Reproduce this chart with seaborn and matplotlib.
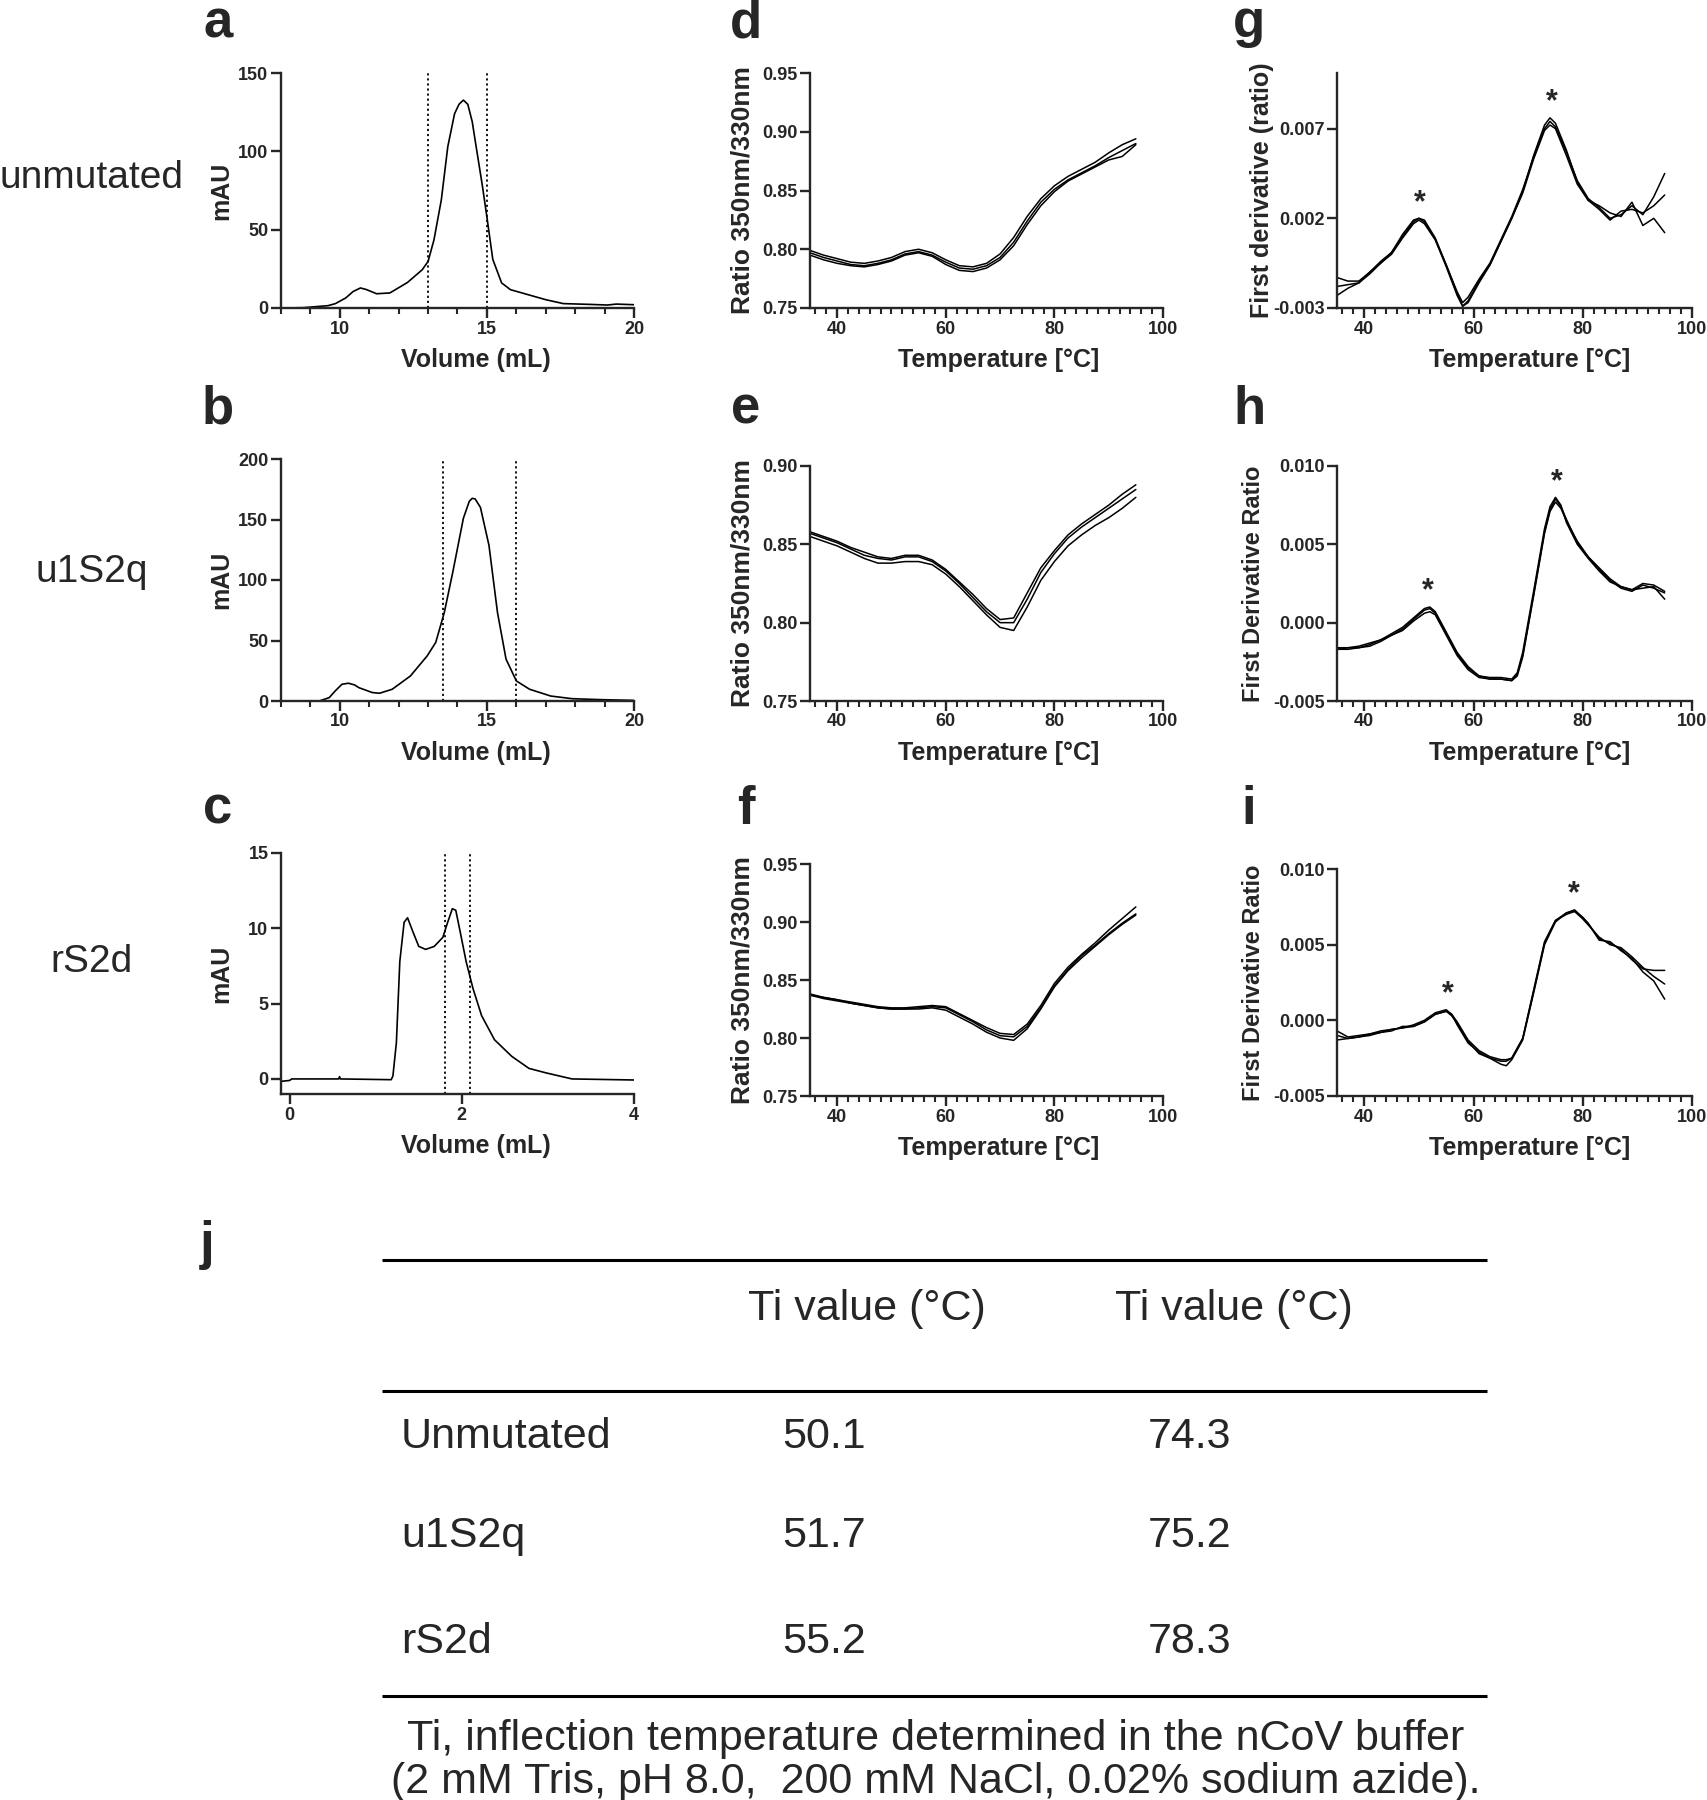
import numpy as np
import matplotlib
matplotlib.use('Agg')
import matplotlib.pyplot as plt
import seaborn as sns
from matplotlib.ticker import MultipleLocator, FormatStrFormatter

sns.set_style('ticks')
plt.rcParams['font.family'] = ['Liberation Sans', 'DejaVu Sans']
plt.rcParams['font.weight'] = 'bold'
plt.rcParams['axes.unicode_minus'] = False

# ---- SEC chromatograms (a, b, c) ----
a_vol = [8, 8.75, 9.6, 9.85, 10.2, 10.45, 10.7, 10.9, 11.25, 11.7, 12.3, 12.8, 13.0, 13.2, 13.45,
         13.67, 13.9, 14.05, 14.2, 14.35, 14.5, 14.6, 14.85, 15.0, 15.2, 15.5, 15.8, 16.4, 17.0,
         17.6, 18.5, 19.1, 19.4, 20]
a_mau = [0, 0.2, 1.5, 2.8, 6.4, 10.5, 12.8, 11.8, 9.1, 9.6, 16.3, 24.4, 29.7, 43.5, 69,
         103, 124, 130, 132.7, 130, 119, 107, 77.5, 58, 31, 16, 11.7, 8.5, 5.3,
         2.8, 2.3, 1.9, 2.5, 2.1]
a_cut = [13, 15]

b_vol = [8, 9.3, 9.64, 9.85, 10.07, 10.29, 10.5, 10.65, 11.1, 11.35, 11.78, 12.4, 12.97, 13.26,
         13.55, 13.84, 14.2, 14.4, 14.5, 14.6, 14.78, 15.07, 15.36, 15.65, 16.0, 16.45, 17.17,
         17.9, 18.9, 20]
b_mau = [0, 0, 2.8, 8.5, 13.8, 14.7, 13.3, 11, 7, 6.4, 9.7, 20.7, 37.3, 48.4,
         73, 106.5, 151, 165, 167.5, 167, 160, 128.6, 73, 34.6, 16.6, 9.7, 4.1,
         1.9, 1.1, 0.5]
b_cut = [13.5, 16]

c_vol = [-0.1, 0.0, 0.025, 0.57, 0.58, 0.59, 1.18, 1.2, 1.24, 1.28, 1.33, 1.37, 1.43, 1.5, 1.58,
         1.68, 1.78, 1.83, 1.89, 1.93, 1.98, 2.05, 2.13, 2.23, 2.38, 2.58, 2.78, 2.98, 3.13,
         3.28, 4.0]
c_mau = [-0.16, -0.1, 0, 0, 0.15, 0, -0.05, 0.2, 2.4, 7.8, 10.4, 10.7, 9.8, 8.8, 8.6,
         8.8, 9.4, 10.3, 11.3, 11.2, 9.8, 7.8, 6.0, 4.2, 2.6, 1.5, 0.7, 0.4, 0.2,
         0, -0.07]
c_cut = [1.8, 2.1]

# ---- ratio 350/330 curves (d, e, f), 3 replicates ----
T_ratio = [35, 37.5, 40, 42.5, 45, 47.5, 50, 52.5, 55, 57.5, 60, 62.5, 65, 67.5, 70, 72.5,
           75, 77.5, 80, 82.5, 85, 87.5, 90, 92.5, 95]
d1 = [0.799, 0.795, 0.792, 0.789, 0.788, 0.790, 0.793, 0.798, 0.800, 0.797, 0.791, 0.786, 0.785,
      0.788, 0.796, 0.810, 0.828, 0.843, 0.854, 0.862, 0.868, 0.874, 0.882, 0.889, 0.894]
d2 = [0.797, 0.793, 0.790, 0.787, 0.786, 0.788, 0.791, 0.796, 0.798, 0.795, 0.789, 0.784, 0.783,
      0.786, 0.793, 0.806, 0.824, 0.840, 0.851, 0.859, 0.865, 0.871, 0.878, 0.884, 0.890]
d3 = [0.795, 0.791, 0.788, 0.786, 0.785, 0.787, 0.790, 0.795, 0.797, 0.794, 0.787, 0.782, 0.781,
      0.784, 0.791, 0.803, 0.821, 0.837, 0.849, 0.858, 0.864, 0.870, 0.876, 0.879, 0.889]
e1 = [0.858, 0.855, 0.852, 0.848, 0.845, 0.842, 0.841, 0.843, 0.843, 0.840, 0.834, 0.826, 0.818,
      0.809, 0.802, 0.803, 0.819, 0.835, 0.846, 0.856, 0.863, 0.869, 0.875, 0.882, 0.888]
e2 = [0.857, 0.854, 0.851, 0.847, 0.843, 0.841, 0.840, 0.842, 0.842, 0.839, 0.833, 0.825, 0.816,
      0.807, 0.800, 0.800, 0.815, 0.832, 0.844, 0.854, 0.861, 0.867, 0.873, 0.879, 0.885]
e3 = [0.855, 0.852, 0.849, 0.845, 0.841, 0.838, 0.838, 0.839, 0.839, 0.837, 0.831, 0.823, 0.814,
      0.805, 0.797, 0.795, 0.810, 0.827, 0.839, 0.849, 0.856, 0.862, 0.867, 0.873, 0.880]
f1 = [0.838, 0.835, 0.833, 0.831, 0.829, 0.827, 0.826, 0.826, 0.827, 0.828, 0.827, 0.821, 0.815,
      0.809, 0.804, 0.803, 0.812, 0.828, 0.847, 0.861, 0.872, 0.882, 0.893, 0.903, 0.913]
f2 = [0.837, 0.835, 0.833, 0.830, 0.828, 0.826, 0.825, 0.825, 0.826, 0.827, 0.826, 0.820, 0.814,
      0.807, 0.802, 0.801, 0.810, 0.826, 0.845, 0.859, 0.871, 0.880, 0.890, 0.899, 0.907]
f3 = [0.837, 0.834, 0.832, 0.830, 0.828, 0.826, 0.825, 0.825, 0.825, 0.826, 0.824, 0.818, 0.812,
      0.805, 0.800, 0.798, 0.808, 0.825, 0.844, 0.858, 0.869, 0.879, 0.889, 0.898, 0.906]

# ---- first derivative curves (g, h, i), 3 replicates ----
T_g = [35, 37, 39, 41, 43, 45, 47, 49, 50, 51, 53, 55, 57, 58, 59, 61, 63, 65, 67, 69, 71, 73,
       74, 75, 77, 79, 81, 83, 85, 87, 89, 91, 93, 95]
g1 = [-0.0018, -0.0017, -0.0016, -0.0010, -0.0005, 0.0001, 0.0010, 0.0018, 0.0020, 0.0018,
      0.0008, -0.0006, -0.0021, -0.0027, -0.0024, -0.0014, -0.0005, 0.0008, 0.0021, 0.0036,
      0.0054, 0.0070, 0.0074, 0.0071, 0.0057, 0.0041, 0.0031, 0.0026, 0.0020, 0.0022,
      0.0027, 0.0022, 0.0032, 0.0045]
g2 = [-0.0013, -0.0015, -0.0015, -0.0010, -0.0004, 0.0001, 0.0011, 0.0019, 0.0020, 0.0019,
      0.0009, -0.0006, -0.0022, -0.0029, -0.0026, -0.0015, -0.0006, 0.0007, 0.0020, 0.0035,
      0.0055, 0.0072, 0.0076, 0.0073, 0.0058, 0.0040, 0.0030, 0.0027, 0.0023, 0.0021,
      0.0029, 0.0016, 0.0020, 0.0012]
g3 = [-0.0023, -0.0019, -0.0016, -0.0011, -0.0005, 0.0000, 0.0009, 0.0017, 0.0019, 0.0017,
      0.0008, -0.0007, -0.0023, -0.0029, -0.0027, -0.0016, -0.0006, 0.0007, 0.0020, 0.0034,
      0.0053, 0.0069, 0.0072, 0.0070, 0.0055, 0.0039, 0.0030, 0.0025, 0.0019, 0.0024,
      0.0025, 0.0023, 0.0027, 0.0033]

T_h = [35, 37, 39, 41, 43, 45, 47, 49, 51, 52, 53, 55, 57, 59, 61, 63, 65, 67, 68, 69, 71, 73,
       74, 75, 76, 77, 79, 81, 83, 85, 87, 89, 91, 93, 95]
h1 = [-0.0017, -0.0017, -0.0016, -0.0015, -0.0012, -0.0008, -0.0004, 0.0002, 0.0008, 0.0009,
      0.0006, -0.0007, -0.0020, -0.0029, -0.0034, -0.0036, -0.0036, -0.0037, -0.0033, -0.0021,
      0.0018, 0.0058, 0.0072, 0.0079, 0.0074, 0.0066, 0.0051, 0.0042, 0.0034, 0.0027,
      0.0022, 0.0020, 0.0024, 0.0022, 0.0019]
h2 = [-0.0016, -0.0016, -0.0015, -0.0013, -0.0011, -0.0007, -0.0003, 0.0003, 0.0009, 0.0010,
      0.0007, -0.0006, -0.0019, -0.0028, -0.0034, -0.0035, -0.0035, -0.0036, -0.0032, -0.0019,
      0.0020, 0.0060, 0.0074, 0.0080, 0.0075, 0.0064, 0.0050, 0.0041, 0.0033, 0.0026,
      0.0023, 0.0021, 0.0022, 0.0023, 0.0015]
h3 = [-0.0017, -0.0016, -0.0016, -0.0014, -0.0011, -0.0008, -0.0005, 0.0001, 0.0006, 0.0007,
      0.0005, -0.0008, -0.0021, -0.0030, -0.0035, -0.0036, -0.0036, -0.0037, -0.0034, -0.0022,
      0.0017, 0.0057, 0.0071, 0.0077, 0.0073, 0.0065, 0.0052, 0.0042, 0.0035, 0.0028,
      0.0023, 0.0021, 0.0025, 0.0024, 0.0020]

T_i = [35, 37, 39, 41, 43, 45, 47, 49, 51, 53, 55, 56, 57, 59, 61, 63, 65, 66, 67, 69, 71, 73,
       75, 77, 78.5, 80, 81, 83, 85, 87, 89, 91, 93, 95]
i1 = [-0.0010, -0.0012, -0.0011, -0.0009, -0.0008, -0.0006, -0.0005, -0.0003, 0.0000, 0.0005,
      0.0007, 0.0004, -0.0001, -0.0013, -0.0020, -0.0024, -0.0026, -0.0026, -0.0025, -0.0012,
      0.0019, 0.0051, 0.0066, 0.0071, 0.0073, 0.0068, 0.0064, 0.0054, 0.0051, 0.0047,
      0.0040, 0.0034, 0.0033, 0.0033]
i2 = [-0.0013, -0.0012, -0.0011, -0.0010, -0.0008, -0.0007, -0.0004, -0.0004, -0.0001, 0.0004,
      0.0006, 0.0003, -0.0002, -0.0014, -0.0022, -0.0025, -0.0029, -0.0030, -0.0026, -0.0013,
      0.0018, 0.0050, 0.0065, 0.0071, 0.0072, 0.0068, 0.0064, 0.0053, 0.0052, 0.0046,
      0.0041, 0.0032, 0.0026, 0.0014]
i3 = [-0.0007, -0.0011, -0.0010, -0.0009, -0.0007, -0.0006, -0.0005, -0.0004, -0.0001, 0.0004,
      0.0006, 0.0004, -0.0003, -0.0015, -0.0021, -0.0025, -0.0027, -0.0027, -0.0025, -0.0012,
      0.0020, 0.0052, 0.0066, 0.0070, 0.0072, 0.0067, 0.0063, 0.0055, 0.0050, 0.0048,
      0.0042, 0.0035, 0.0029, 0.0024]

# ---- table j ----
constructs = ['Unmutated', 'u1S2q', 'rS2d']
row_labels = ['unmutated', 'u1S2q', 'rS2d']
ti_first = [50.1, 51.7, 55.2]
ti_second = [74.3, 75.2, 78.3]
footnote = ['Ti, inflection temperature determined in the nCoV buffer',
            '(2 mM Tris, pH 8.0,  200 mM NaCl, 0.02% sodium azide).']

W, H = 1708, 1800
fig = plt.figure(figsize=(W / 100, H / 100), dpi=100)


def px_axes(left, top, right, bottom):
    return fig.add_axes([left / W, 1 - bottom / H, (right - left) / W, (bottom - top) / H])


def style(ax, ylab, xlab, ylab_off, xlab_shift, top, bottom, left, right, ysize=19):
    sns.despine(ax=ax)
    for s in ['left', 'bottom']:
        ax.spines[s].set_linewidth(1.7)
    ax.tick_params(which='major', length=7, width=1.7, labelsize=13, pad=2)
    ax.tick_params(which='minor', length=4.5, width=1.5)
    ax.set_ylabel(ylab, fontsize=ysize, fontweight='bold')
    ax.set_xlabel(xlab, fontsize=18, fontweight='bold')
    ax.yaxis.set_label_coords(ylab_off / (right - left), 0.5)
    ax.xaxis.set_label_coords(0.5 + xlab_shift / (right - left), -40 / (bottom - top))


def sec(ax, vol, mau, cuts, xlim, ylim, yticks, xmajor, xminor, box):
    sns.lineplot(x=vol, y=mau, ax=ax, color='black', lw=1.2, sort=False)
    for c in cuts:
        ax.axvline(c, color='black', ls=(0, (1.2, 1.6)), lw=1.3)
    ax.set_xlim(*xlim)
    ax.set_ylim(*ylim)
    ax.set_yticks(yticks)
    ax.xaxis.set_major_locator(MultipleLocator(xmajor))
    if xminor:
        ax.xaxis.set_minor_locator(MultipleLocator(xminor))
    style(ax, 'mAU', 'Volume (mL)', -48, 18, *box, ysize=18)


def thermal(ax, T, curves, ylim, yticks, fmt, ylab, yoff, xshift, box, ti=None, ysize=19):
    for c in curves:
        sns.lineplot(x=T, y=c, ax=ax, color='black', lw=1.1)
    ax.set_xlim(35, 100)
    ax.set_ylim(*ylim)
    ax.set_yticks(yticks)
    ax.yaxis.set_major_formatter(FormatStrFormatter(fmt))
    ax.xaxis.set_major_locator(MultipleLocator(20))
    ax.xaxis.set_minor_locator(MultipleLocator(2))
    style(ax, ylab, 'Temperature [°C]', yoff, xshift, *box, ysize=ysize)
    if ti is not None:
        arr = np.array(curves)
        tt = np.array(T)
        for t in ti:
            peak = arr[:, np.abs(tt - t) <= 1.5].max()
            ax.annotate('*', xy=(t, peak), xytext=(0, 11), textcoords='offset points',
                        ha='center', va='center', fontsize=22, fontweight='bold')


# column x-extents and row y-extents in pixels
colA = (281, 634)
colD = (810, 1163)
colG = (1337, 1692)

boxes = {
    'a': (73, 308), 'd': (73, 308), 'g': (73, 308),
    'b': (459, 701), 'e': (466, 701), 'h': (466, 701),
    'c': (853, 1094), 'f': (864, 1096), 'i': (869, 1096),
}


def make(letter, col):
    top, bottom = boxes[letter]
    ax = px_axes(col[0], top, col[1], bottom)
    return ax, (top, bottom, col[0], col[1])


ax, bx = make('a', colA)
sec(ax, a_vol, a_mau, a_cut, (8, 20), (0, 150), [0, 50, 100, 150], 5, 1, bx)
ax, bx = make('b', colA)
sec(ax, b_vol, b_mau, b_cut, (8, 20), (0, 200), [0, 50, 100, 150, 200], 5, 1, bx)
ax, bx = make('c', colA)
sec(ax, c_vol, c_mau, c_cut, (-0.1, 4), (-1, 15), [0, 5, 10, 15], 2, None, bx)

ax, bx = make('d', colD)
thermal(ax, T_ratio, [d1, d2, d3], (0.75, 0.95), [0.75, 0.80, 0.85, 0.90, 0.95], '%.2f',
        'Ratio 350nm/330nm', -55, 12, bx)
ax, bx = make('e', colD)
thermal(ax, T_ratio, [e1, e2, e3], (0.75, 0.90), [0.75, 0.80, 0.85, 0.90], '%.2f',
        'Ratio 350nm/330nm', -55, 12, bx)
ax, bx = make('f', colD)
thermal(ax, T_ratio, [f1, f2, f3], (0.75, 0.95), [0.75, 0.80, 0.85, 0.90, 0.95], '%.2f',
        'Ratio 350nm/330nm', -55, 12, bx)

ax, bx = make('g', colG)
thermal(ax, T_g, [g1, g2, g3], (-0.003, 0.0101), [-0.003, 0.002, 0.007], '%.3f',
        'First derivative (ratio)', -63, 15, bx, ti=[ti_first[0], ti_second[0]], ysize=18)
ax, bx = make('h', colG)
thermal(ax, T_h, [h1, h2, h3], (-0.005, 0.010), [-0.005, 0.000, 0.005, 0.010], '%.3f',
        'First Derivative Ratio', -72, 15, bx, ti=[ti_first[1], ti_second[1]], ysize=17)
ax, bx = make('i', colG)
thermal(ax, T_i, [i1, i2, i3], (-0.005, 0.010), [-0.005, 0.000, 0.005, 0.010], '%.3f',
        'First Derivative Ratio', -72, 15, bx, ti=[ti_first[2], ti_second[2]], ysize=17)

# overlay for labels and table, in pixel coordinates
tax = fig.add_axes([0, 0, 1, 1], zorder=-1)
tax.set_xlim(0, W)
tax.set_ylim(H, 0)
tax.axis('off')

letters = {'a': (218, 23), 'd': (746, 23), 'g': (1249, 23),
           'b': (218, 410), 'e': (746, 410), 'h': (1249, 410),
           'c': (218, 810), 'f': (746, 810), 'i': (1249, 810),
           'j': (207, 1245)}
for k, (x, y) in letters.items():
    tax.text(x, y, k, fontsize=38, fontweight='bold', ha='center', va='center')

for lab, y in zip(row_labels, [178, 572, 962]):
    tax.text(92, y, lab, fontsize=28, fontweight='normal', ha='center', va='center')

# table
tax.hlines([1260, 1391, 1696], 382, 1487, color='black', lw=2.2)
for x in [867, 1234]:
    tax.text(x, 1309, 'Ti value (°C)', fontsize=31, fontweight='normal', ha='center', va='center')
for name, t1, t2, y in zip(constructs, ti_first, ti_second, [1437, 1536, 1642]):
    tax.text(401, y, name, fontsize=31, fontweight='normal', ha='left', va='center')
    tax.text(824, y, f'{t1:.1f}', fontsize=31, fontweight='normal', ha='center', va='center')
    tax.text(1190, y, f'{t2:.1f}', fontsize=31, fontweight='normal', ha='center', va='center')
for line, y in zip(footnote, [1739, 1782]):
    tax.text(936, y, line, fontsize=31, fontweight='normal', ha='center', va='center')

fig.savefig('out.png', dpi=100)
